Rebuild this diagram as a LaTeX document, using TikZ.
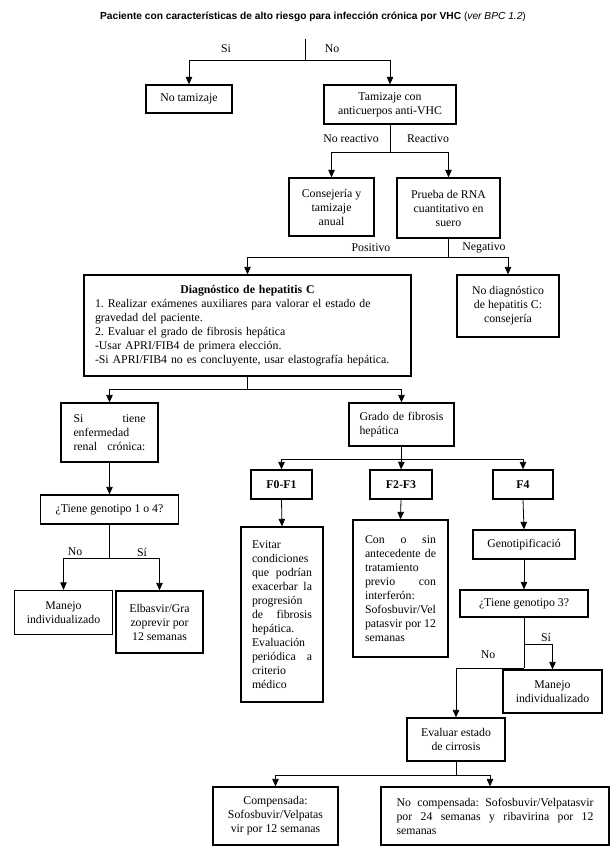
\documentclass[tikz,border=0pt]{standalone}
\usepackage{fontspec}
\setmainfont{Liberation Serif}
\newfontfamily\titlefont{Liberation Sans}
\usetikzlibrary{arrows.meta}
\frenchspacing
\tikzset{
  box/.style={draw, line width=1.3pt, inner sep=0pt, align=center,
    font=\fontsize{11.8}{14}\selectfont},
  lbl/.style={inner sep=0pt, font=\fontsize{11.8}{14}\selectfont},
  conn/.style={line width=0.8pt},
  arr/.style={line width=0.8pt, -{Triangle[width=6.5pt,length=7.5pt]}},
}
\begin{document}
\begin{tikzpicture}[x=1pt,y=-1pt]
\useasboundingbox[fill=white] (0,0) rectangle (610,853);
% title
\node[inner sep=0pt, font=\titlefont\fontsize{10.2}{12}\selectfont] (title) at (313,17)
  {\textbf{Paciente con características de alto riesgo para infección crónica por VHC} (\textit{ver BPC 1.2})};
% boxes
\node[box, minimum width=86pt, minimum height=28pt] (notam) at (189,99) {No tamizaje};
\node[box, minimum width=132pt, minimum height=39pt] (tam) at (390,104.5) {Tamizaje con\\anticuerpos anti-VHC};
\node[box, minimum width=85pt, minimum height=58pt] (cons) at (331.5,207) {Consejería y\\tamizaje\\anual};
\node[box, minimum width=103pt, minimum height=60pt] (rna) at (448.5,208) {Prueba de RNA\\cuantitativo en\\suero};
\node[box, minimum width=327pt, minimum height=101pt, text width=305pt, align=left] (diag) at (247.5,325.5)
  {\centerline{\textbf{Diagnóstico de hepatitis C}}
   1. Realizar exámenes auxiliares para valorar el estado de\\
   gravedad del paciente.\\
   2. Evaluar el grado de fibrosis hepática\\
   -Usar APRI/FIB4 de primera elección.\\
   -Si APRI/FIB4 no es concluyente, usar elastografía hepática.};
\node[box, minimum width=102pt, minimum height=62pt] (nodiag) at (508,306) {No diagnóstico\\de hepatitis C:\\consejería};
\node[box, minimum width=97pt, minimum height=59pt, text width=72pt, align=left] (renal) at (109.5,432.5)
  {Si\hfill tiene\\enfermedad\\renal\hfill crónica:};
\node[box, minimum width=105pt, minimum height=43pt, text width=84pt, align=left] (grado) at (401.5,424.5)
  {Grado de fibrosis\\hepática};
\node[box, minimum width=138pt, minimum height=29pt] (gen14) at (109.5,509.5) {¿Tiene genotipo 1 o 4?};
\node[box, minimum width=98pt, minimum height=44pt] (man1) at (63.5,612.5) {Manejo\\individualizado};
\node[box, minimum width=87pt, minimum height=62pt] (elb) at (159.5,622) {Elbasvir/Gra\\zoprevir por\\12 semanas};
\node[box, minimum width=61pt, minimum height=29pt, font=\bfseries\fontsize{11.8}{14}\selectfont] (f01) at (281.5,484.5) {F0-F1};
\node[box, minimum width=62pt, minimum height=29pt, font=\bfseries\fontsize{11.8}{14}\selectfont] (f23) at (401,484.5) {F2-F3};
\node[box, minimum width=60pt, minimum height=29pt, font=\bfseries\fontsize{11.8}{14}\selectfont] (f4) at (523,484.5) {F4};
\node[box, minimum width=82pt, minimum height=175pt, text width=60pt, align=left] (evit) at (282,614.5)
  {Evitar\\condiciones\\que\hfill podrían\\exacerbar\hfill la\\progresión\\de\hfill fibrosis\\hepática.\\Evaluación\\periódica\hfill a\\criterio\\médico};
\node[box, minimum width=95pt, minimum height=137pt, text width=71pt, align=left] (con) at (400.5,588.5)
  {Con\hfill o\hfill sin\\antecedente\hfill de\\tratamiento\\previo\hfill con\\interferón:\\Sofosbuvir/Vel\\patasvir\hfill por\hfill 12\\semanas};
\node[box, minimum width=102pt, minimum height=29pt] (genot) at (524,544.5) {Genotipificació};
\node[box, minimum width=128pt, minimum height=27pt] (gen3) at (524,603.5) {¿Tiene genotipo 3?};
\node[box, minimum width=99pt, minimum height=43pt] (man2) at (552.5,691.5) {Manejo\\individualizado};
\node[box, minimum width=98pt, minimum height=43pt] (eval) at (456,739.5) {Evaluar estado\\de cirrosis};
\node[box, minimum width=125pt, minimum height=58pt] (comp) at (275.5,816) {Compensada:\\Sofosbuvir/Velpatas\\vir por 12 semanas};
\node[box, minimum width=228pt, minimum height=58pt, text width=197pt, align=left] (nocomp) at (495,816)
  {No\hfill compensada:\hfill Sofosbuvir/Velpatasvir\\por\hfill 24\hfill semanas\hfill y\hfill ribavirina\hfill por\hfill 12\\semanas};
% connectors
\coordinate (t0) at (305,39);
\coordinate (t1) at (305,60);
\draw[conn] (t0) -- (t1);
\draw[arr] (t1) -| (notam.north);
\draw[arr] (t1) -| (tam.north);
\node[lbl] (lsi1) at (226,49) {Si};
\node[lbl] (lno1) at (332,49) {No};

\coordinate (j2) at (390,152);
\draw[conn] (tam.south) -- (j2);
\draw[arr] (j2) -| (cons.north);
\draw[arr] (j2) -| (rna.north);
\node[lbl] (lnr) at (351,139) {No reactivo};
\node[lbl] (lr) at (428,139) {Reactivo};

\coordinate (j3) at (448.5,257);
\draw[conn] (rna.south) -- (j3);
\draw[arr] (j3) -| (diag.north);
\draw[arr] (j3) -| (nodiag.north);
\node[lbl] (lpos) at (371,248) {Positivo};
\node[lbl] (lneg) at (484,248) {Negativo};

\coordinate (j4) at (247.5,389);
\draw[conn] (diag.south) -- (j4);
\draw[arr] (j4) -| (renal.north);
\draw[arr] (j4) -| (grado.north);

\draw[arr] (renal.south) -- (gen14.north);
\coordinate (j5) at (109.5,558);
\draw[conn] (gen14.south) -- (j5);
\draw[arr] (j5) -| (man1.north);
\draw[arr] (j5) -| (elb.north);
\node[lbl] (lno2) at (75,552) {No};
\node[lbl] (lsi2) at (142,552) {Sí};

\coordinate (j6) at (401.5,459);
\draw[conn] (grado.south) -- (j6);
\draw[arr] (j6) -| (f01.north);
\draw[arr] (j6) -- (f23.north);
\draw[arr] (j6) -| (f4.north);
\draw[arr] (f01.south) -- (evit.north);
\draw[arr] (f23.south) -- (con.north);
\draw[arr] (f4.south) -- (genot.north);
\draw[arr] (genot.south) -- (gen3.north);

\coordinate (j7) at (524,644);
\coordinate (j8) at (524,668);
\draw[conn] (gen3.south) -- (j8);
\draw[arr] (j7) -| (man2.north);
\draw[arr] (j8) -| (eval.north);
\node[lbl] (lsi3) at (546,637) {Sí};
\node[lbl] (lno3) at (488,655) {No};

\coordinate (j9) at (456,775);
\draw[conn] (eval.south) -- (j9);
\draw[arr] (j9) -| (comp.north);
\draw[arr] (j9) -| ([xshift=-5pt]nocomp.north);
\end{tikzpicture}
\end{document}
